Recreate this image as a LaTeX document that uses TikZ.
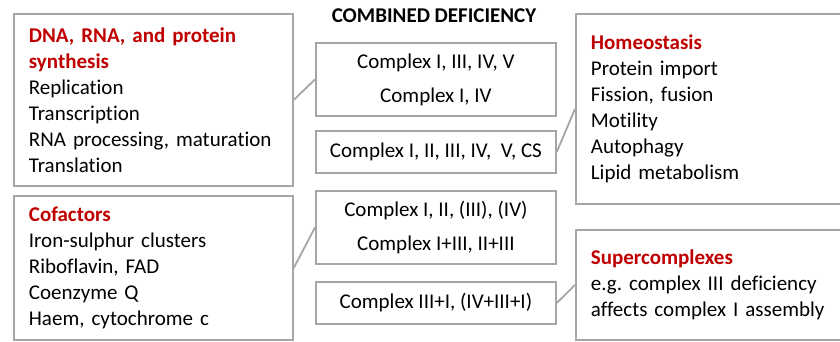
\documentclass[tikz,border=0pt]{standalone}
\usepackage{fontspec}
\setmainfont{Carlito}[Ligatures=NoCommon]
\frenchspacing
\usetikzlibrary{positioning}
\definecolor{frame}{RGB}{166,166,166}
\definecolor{darkred}{RGB}{192,0,0}
\newcommand\redhead[1]{\textcolor{darkred}{\bfseries #1}}
\tikzset{
  txt/.style={font=\fontsize{21}{26}\selectfont},
  panel/.style={txt,draw=frame,line width=1.8pt,fill=white,inner xsep=15pt,inner ysep=0pt,
    text width=#1,align=left,anchor=north west},
  cbox/.style={txt,draw=frame,line width=1.8pt,fill=white,minimum width=240pt,
    align=center,anchor=north west},
  link/.style={draw=frame,line width=1.8pt},
}

\begin{document}
\begin{tikzpicture}[x=1pt,y=-1pt]
  \useasboundingbox (0,0) rectangle (840,341);
  \clip (0,0) rectangle (840,341);
  % title
  \node[txt,font=\fontsize{21}{26}\selectfont\bfseries,anchor=base] (title) at (434,22) {COMBINED DEFICIENCY};
  % left panels
  \node[panel=249pt,minimum height=172pt] (synth) at (13,13)
    {\redhead{DNA, RNA, and protein}\\\redhead{synthesis}\\Replication\\Transcription\\RNA processing, maturation\\Translation};
  \node[panel=249pt,minimum height=144pt] (cofac) at (13,195)
    {\redhead{Cofactors}\\Iron-sulphur clusters\\Riboflavin, FAD\\Coenzyme Q\\Haem, cytochrome c};
  % middle boxes
  \node[cbox,minimum height=73pt] (cx1) at (315,42) {Complex I, III, IV, V\\[8pt]Complex I, IV};
  \node[cbox,minimum height=42pt] (cx2) at (315,130) {Complex I, II, III, IV,\ \ V, CS};
  \node[cbox,minimum height=73pt] (cx3) at (315,190) {Complex I, II, (III), (IV)\\[8pt]Complex I+III, II+III};
  \node[cbox,minimum height=42pt] (cx4) at (315,281) {Complex III+I, (IV+III+I)};
  % right panels
  \node[panel=250pt,minimum height=190pt] (homeo) at (575,13)
    {\redhead{Homeostasis}\\Protein import\\Fission, fusion\\Motility\\Autophagy\\Lipid metabolism};
  \node[panel=250pt,minimum height=110pt] (super) at (575,229)
    {\redhead{Supercomplexes}\\e.g. complex III deficiency\\affects complex I assembly};
  % connectors
  \draw[link] (synth.east) -- (cx1.west);
  \draw[link] (cx2.east) -- (homeo.west);
  \draw[link] (cofac.east) -- (cx3.west);
  \draw[link] (cx4.east) -- (super.west);
\end{tikzpicture}
\end{document}
